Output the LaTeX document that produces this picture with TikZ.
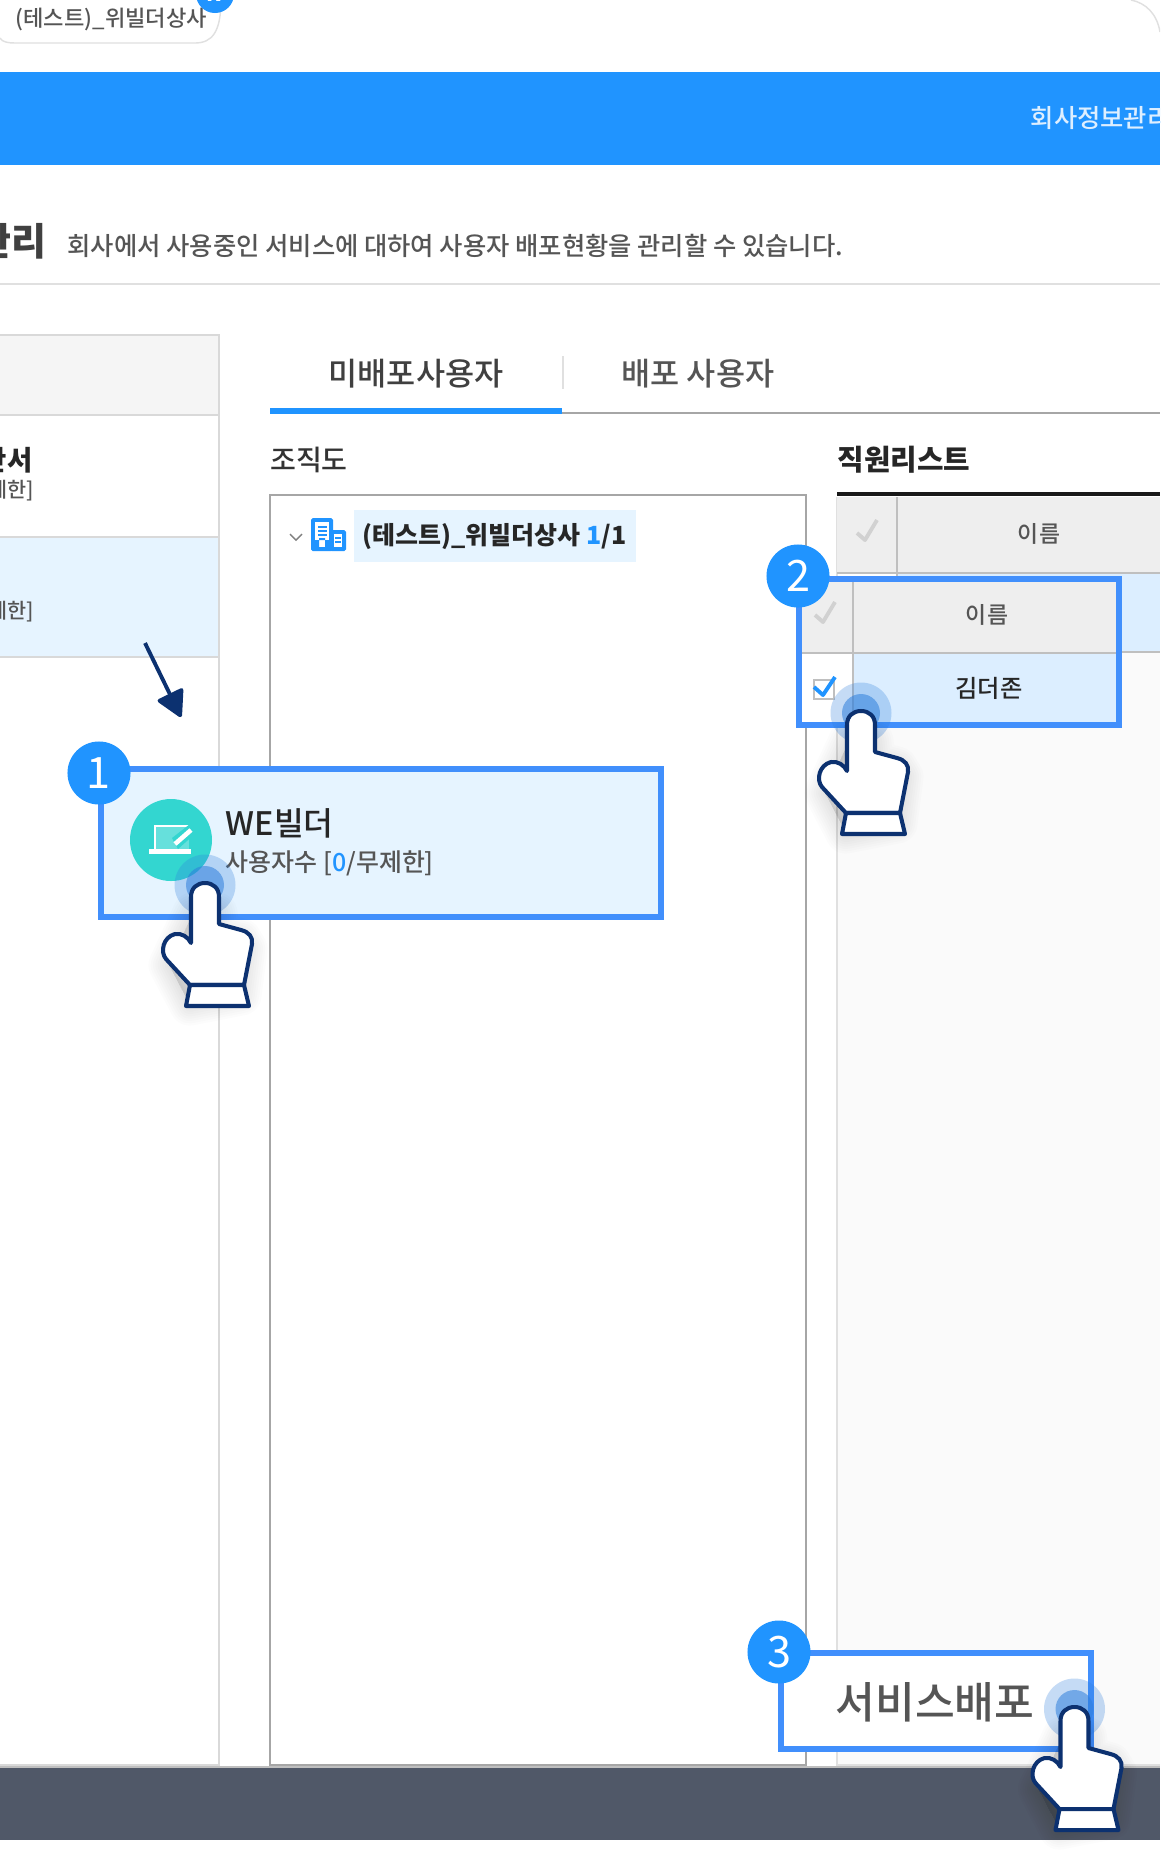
\documentclass[tikz,border=0pt]{standalone}
\usepackage{fontspec}
\setmainfont{Noto Sans CJK KR}
\newfontfamily\krmed{Noto Sans CJK KR Medium}
\usetikzlibrary{arrows.meta}

\definecolor{barblue}{HTML}{2094FF}
\definecolor{boxblue}{HTML}{418FFC}
\definecolor{paleblue}{HTML}{E6F4FF}
\definecolor{rowblue}{HTML}{DCEEFF}
\definecolor{navy}{HTML}{0C3170}
\definecolor{teal}{HTML}{33D6D0}
\definecolor{footer}{HTML}{505868}
\definecolor{headgrey}{HTML}{EEEEEE}
\definecolor{txtgrey}{HTML}{555555}
\definecolor{touch}{HTML}{2F7FDC}

\tikzset{
  txt/.style={inner sep=0pt, text=#1}, txt/.default=txtgrey,
  numdot/.style={circle, fill=barblue, text=white, inner sep=0pt, minimum size=0.63cm,
    font=\fontsize{12.3}{14}\selectfont},
  markbox/.style={draw=boxblue, line width=1.7pt},
  chk/.style={line width=1.1pt, draw=#1, line join=round},
  hand/.pic={
    \fill[touch, opacity=0.28] (0,2) circle (30.5);
    \fill[touch, opacity=0.55] (0,2) circle (19);
    % soft shadow
    \foreach \w in {1, 2, ..., 9} {
      \draw[black, fill=black, opacity=0.012, line width=\w*1.3pt, line join=round] (-12,30) -- (12,30) -- (14,50) -- (36,56) -- (42,66) -- (36,112) -- (-15,122) -- (-36,82) -- cycle;
    }
    \draw[navy, fill=white, line width=1.15pt, line join=round]
      (-14,14) .. controls (-14,5) and (-8,0) .. (0,0) .. controls (8,0) and (14,5) .. (14,14)
      -- (14,41) -- (36,47) .. controls (44,49) and (48,54) .. (47,61) -- (39,102)
      -- (-15,102) -- (-39,76) .. controls (-45,69) and (-42,54) .. (-30,51)
      .. controls (-23,50) and (-17,54) .. (-14,60) -- cycle;
    \draw[navy, fill=white, line width=1.15pt, line join=round] (-15,102) -- (-19,123) -- (44,123) -- (39,102) -- cycle;
  }
}

\begin{document}
\begin{tikzpicture}[x=0.01cm, y=-0.01cm]
  \useasboundingbox (0,0) rectangle (1160,1869);
  \clip (0,0) rectangle (1160,1869);
  \fill[white] (0,0) rectangle (1160,1869);

  % top of the window
  \draw[black!12, line width=0.4pt] (0,38) .. controls (2,42) and (8,43) .. (15,43) -- (195,43) .. controls (212,43) and (221,32) .. (221,0);
  \draw[black!12, line width=0.4pt] (1131,0) .. controls (1146,3) and (1157,14) .. (1160,32);
  \node[txt, anchor=west, font=\fontsize{6.3}{8}\krmed\selectfont] (company) at (15,19) {(테스트)\_위빌더상사};
  \node[circle, fill=barblue, text=white, inner sep=0pt, minimum size=0.38cm, font=\fontsize{6}{7}\bfseries\selectfont] (badge) at (215,-6) {\raisebox{-1pt}{N}};

  % blue bar
  \fill[barblue] (0,72) rectangle (1160,165);
  \node[txt=white!85!barblue, anchor=west, font=\fontsize{7.2}{8}\krmed\selectfont] (barmenu) at (1030,118) {회사정보관리};

  % title
  \node[txt=black!75, anchor=east, font=\fontsize{10.8}{12}\bfseries\selectfont] (title) at (47,241) {관리};
  \node[txt, anchor=west, font=\fontsize{7.2}{8}\krmed\selectfont] (subtitle) at (67,246) {회사에서 사용중인 서비스에 대하여 사용자 배포현황을 관리할 수 있습니다.};
  \draw[black!12, line width=0.5pt] (0,284) -- (1160,284);

  % left panel
  \fill[black!4] (0,335) rectangle (219,415);
  \fill[paleblue] (0,537) rectangle (219,657);
  \draw[black!15, line width=0.5pt] (0,335) -- (219,335) -- (219,1765) -- (0,1765);
  \draw[black!15, line width=0.5pt] (0,415) -- (219,415) (0,537) -- (219,537) (0,657) -- (219,657);
  \node[txt=black!85, anchor=east, font=\fontsize{7.8}{9}\bfseries\selectfont] (svca) at (33,460) {제안서};
  \node[txt, anchor=east, font=\fontsize{5.9}{7}\krmed\selectfont] (limita) at (35,491) {무제한]};
  \node[txt, anchor=east, font=\fontsize{5.9}{7}\krmed\selectfont] (limitb) at (35,612) {무제한]};

  % tabs
  \node[txt=black!75, font=\fontsize{9}{10}\krmed\selectfont] (tabone) at (416,374) {미배포사용자};
  \node[txt, font=\fontsize{9}{10}\krmed\selectfont] (tabtwo) at (698,374) {배포 사용자};
  \draw[black!12, line width=0.5pt] (563,356) -- (563,389);
  \draw[black!35, line width=0.6pt] (270,413) -- (1160,413);
  \fill[barblue] (270,408) rectangle (562,414);

  % tree
  \node[txt=black!80, font=\fontsize{8}{9}\krmed\selectfont] (treehead) at (309,460) {조직도};
  \draw[black!35, line width=0.45pt] (270,495) rectangle (806,1765);
  \draw[black!50, line width=0.4pt] (290,534) -- (296,540) -- (302,534);
  \fill[barblue, rounded corners=0.5pt] (311,518) rectangle (333,551);
  \fill[barblue, rounded corners=0.5pt] (330,530) rectangle (346,551);
  \fill[white] (315,522) rectangle (329,547);
  \fill[white] (334,534) rectangle (342,547);
  \foreach \y in {526, 530, 534} \fill[barblue] (318,\y) rectangle (327,\y+2);
  \foreach \y in {537, 541} \fill[barblue] (335,\y) rectangle (341,\y+2);
  \fill[barblue] (315,540) rectangle (319,547) (325,540) rectangle (329,547) (319,538) rectangle (325,540);
  \fill[paleblue] (354,510) rectangle (636,562);
  \node[txt=black!85, anchor=west, font=\fontsize{7.1}{9}\bfseries\selectfont] (treeitem) at (362,537) {(테스트)\_위빌더상사 \textcolor{barblue}{1}/1};

  % employee list
  \node[txt=black!85, anchor=west, font=\fontsize{8.2}{9}\bfseries\selectfont] (listhead) at (837,460) {직원리스트};
  \fill[black!2] (837,652) rectangle (1160,1765);
  \draw[black!12, line width=0.5pt] (837,497) -- (837,1765) -- (1160,1765);
  \fill[headgrey] (837,497) rectangle (1160,573);
  \fill[rowblue] (897,573) rectangle (1160,652);
  \draw[black!90, line width=1pt] (837,494) -- (1160,494);
  \draw[black!25, line width=0.4pt] (897,497) -- (897,652) (837,573) -- (1160,573) (837,652) -- (1160,652);
  \draw[chk=black!18] (857,533) -- (865,540) -- (877,520);
  \node[txt, font=\fontsize{6.5}{8}\krmed\selectfont] (namea) at (1039,534) {이름};

  % step 1
  \fill[paleblue] (101,769) rectangle (661,917);
  \draw[markbox] (101,769) rectangle (661,917);
  \coordinate (arrowtop) at (145,643);
  \coordinate (arrowtip) at (181,717);
  \draw[navy, line width=1.1pt, -{Triangle[length=8pt, width=8.5pt, round]}] (arrowtop) -- (arrowtip);
  \fill[teal] (171,840) circle (41);
  \fill[white!25!teal] (155,826) rectangle (189,850);
  \draw[white, line width=0.8pt] (155,850) -- (155,826) -- (190,826);
  \fill[white] (149,849) rectangle (191,854);
  \fill[teal] (172,838) -- (190,824) -- (197,832) -- (178,849) -- cycle;
  \draw[white, line width=1.3pt] (175,844) -- (191,830);
  \node[txt=black!85, anchor=west, font=\fontsize{9.2}{10}\krmed\selectfont] (wename) at (225,823) {WE빌더};
  \node[txt, anchor=west, font=\fontsize{7.1}{8}\krmed\selectfont] (wecount) at (225,863) {사용자수 [\textcolor{barblue}{0}/무제한]};
  \node[numdot] (numa) at (99,773) {1};
  \pic (handa) at (205,883) {hand};

  % step 2
  \fill[headgrey] (799,579) rectangle (1119,653);
  \fill[white] (799,653) rectangle (853,725);
  \fill[rowblue] (853,653) rectangle (1119,725);
  \draw[black!25, line width=0.4pt] (853,579) -- (853,725) (799,653) -- (1119,653);
  \draw[chk=black!18] (815,615) -- (823,622) -- (835,602);
  \draw[black!25, line width=0.5pt] (814,680) rectangle (834,699);
  \draw[chk=barblue] (814,687) -- (823,695) -- (835,677);
  \node[txt, font=\fontsize{6.5}{8}\krmed\selectfont] (nameb) at (987,615) {이름};
  \node[txt=black!85, font=\fontsize{6.9}{8}\krmed\selectfont] (person) at (989,688) {김더존};
  \draw[markbox] (799,579) rectangle (1119,725);
  \node[numdot] (numb) at (798,576) {2};
  \pic (handb) at (861,711) {hand};

  % step 3
  \fill[footer] (0,1768) rectangle (1160,1840);
  \draw[black!25, line width=0.4pt] (0,1767) -- (1160,1767);
  \fill[white] (781,1653) rectangle (1091,1749);
  \draw[markbox] (781,1653) rectangle (1091,1749);
  \node[txt, font=\fontsize{12.3}{14}\krmed\selectfont] (deploy) at (935,1702) {서비스배포};
  \node[numdot] (numc) at (779,1652) {3};
  \pic (handc) at (1074.5,1707) {hand};
\end{tikzpicture}
\end{document}
